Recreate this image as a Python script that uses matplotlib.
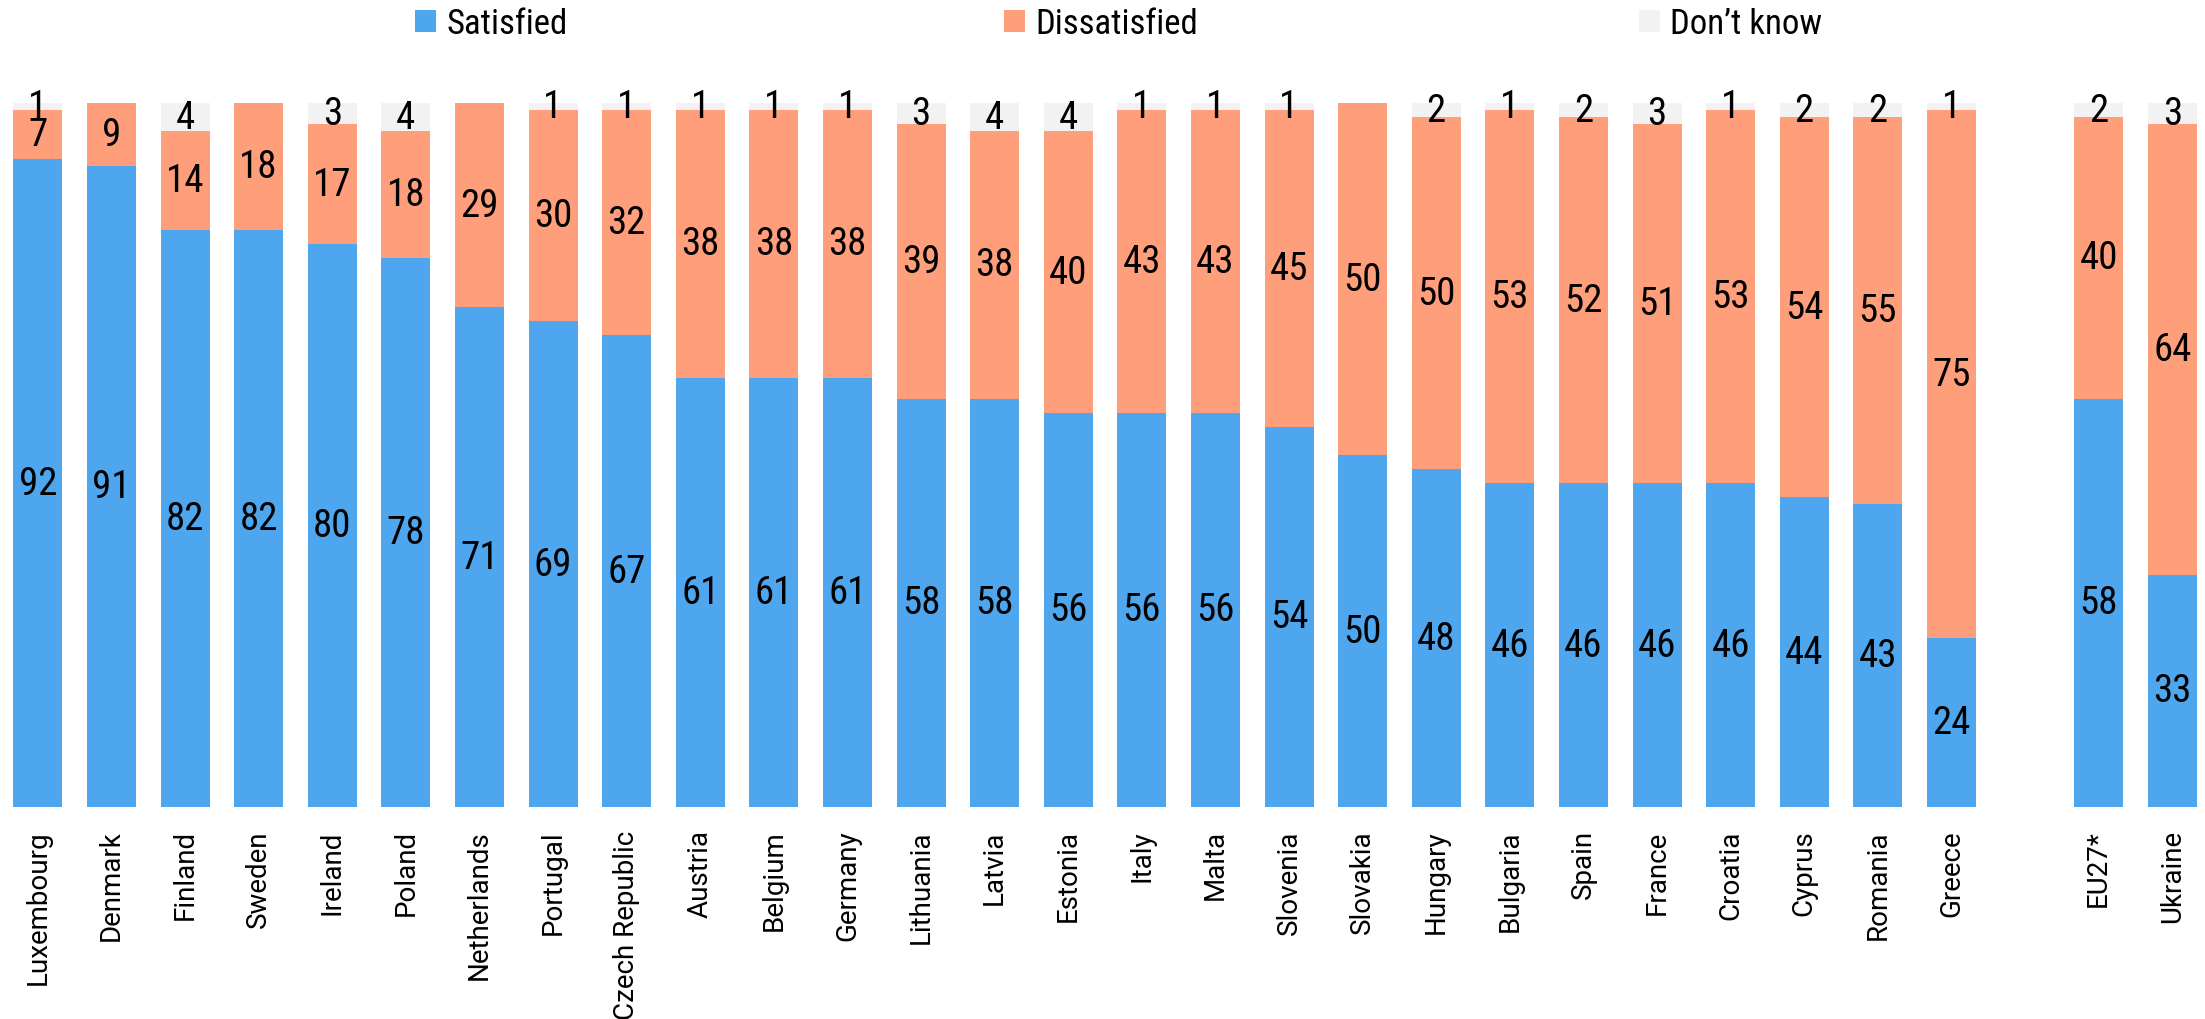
import matplotlib
matplotlib.use("Agg")
import matplotlib.pyplot as plt
from matplotlib.patches import Patch
from matplotlib import font_manager as fm

countries = ["Luxembourg", "Denmark", "Finland", "Sweden", "Ireland", "Poland",
             "Netherlands", "Portugal", "Czech Republic", "Austria", "Belgium",
             "Germany", "Lithuania", "Latvia", "Estonia", "Italy", "Malta",
             "Slovenia", "Slovakia", "Hungary", "Bulgaria", "Spain", "France",
             "Croatia", "Cyprus", "Romania", "Greece", "EU27*", "Ukraine"]
satisfied = [92, 91, 82, 82, 80, 78, 71, 69, 67, 61, 61, 61, 58, 58, 56, 56, 56,
             54, 50, 48, 46, 46, 46, 46, 44, 43, 24, 58, 33]
dissatisfied = [7, 9, 14, 18, 17, 18, 29, 30, 32, 38, 38, 38, 39, 38, 40, 43, 43,
                45, 50, 50, 53, 52, 51, 53, 54, 55, 75, 40, 64]
dont_know = [1, 0, 4, 0, 3, 4, 0, 1, 1, 1, 1, 1, 3, 4, 4, 1, 1, 1, 0, 2, 1, 2, 3,
             1, 2, 2, 1, 2, 3]
series_names = ["Satisfied", "Dissatisfied", "Don\u2019t know"]
colors = ["#4DA6EE", "#FF9E7A", "#F2F2F2"]

# positions: gap between EU countries and the aggregate/Ukraine
positions = list(range(27)) + [28, 29]


def have(name):
    try:
        fm.findfont(fm.FontProperties(family=name), fallback_to_default=False)
        return True
    except Exception:
        return False


narrow = None
for cand in ["Roboto Condensed", "Liberation Sans Narrow", "Open Sans Condensed"]:
    if have(cand):
        narrow = cand
        break
if narrow is None:
    narrow = "Roboto"
    num_size, leg_size = 24, 22
else:
    num_size, leg_size = 28, 25

label_font = "Roboto" if have("Roboto") else "DejaVu Sans"

fig = plt.figure(figsize=(22.05, 10.2), dpi=100)
ax = fig.add_axes([0.0, 0.2078, 1.0, 0.6902])

width = 0.666
bottoms = [0] * len(countries)
for vals, col in zip([satisfied, dissatisfied, dont_know], colors):
    ax.bar(positions, vals, width=width, bottom=bottoms, color=col,
           edgecolor="none")
    for x, b, v in zip(positions, bottoms, vals):
        if v > 0:
            ax.text(x, b + v / 2, str(v), ha="center", va="center",
                    fontsize=num_size, family=narrow, color="black")
    bottoms = [b + v for b, v in zip(bottoms, vals)]

ax.set_xlim(-0.514, 29.445)
ax.set_ylim(0, 100)
ax.set_xticks(positions)
ax.set_xticklabels(countries, rotation=90, fontsize=20, family=label_font,
                   va="top", ha="center")
ax.tick_params(axis="x", length=0, pad=16)
ax.set_yticks([])
for s in ax.spines.values():
    s.set_visible(False)

anchors = [0.1882, 0.4553, 0.7433]
for name, col, xa in zip(series_names, colors, anchors):
    fig.legend([Patch(facecolor=col, edgecolor="none")], [name],
               loc="center left", bbox_to_anchor=(xa, 0.976),
               frameon=False, handlelength=0.6, handleheight=0.6,
               handletextpad=0.3, borderpad=0, borderaxespad=0,
               prop={"family": narrow, "size": leg_size})

fig.savefig("out.png", dpi=100)
